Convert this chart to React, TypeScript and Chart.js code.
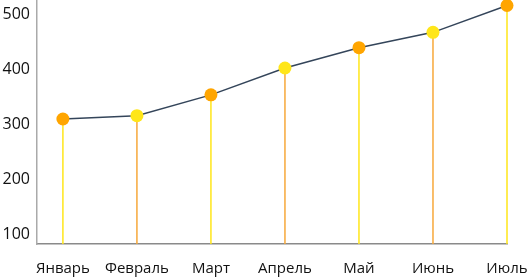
import React, { useEffect, useRef } from "react";
import { Chart, registerables } from "chart.js";

Chart.register(...registerables);

const categories = ["Январь", "Февраль", "Март", "Апрель", "Май", "Июнь", "Июль"];
const values = [310, 316, 354, 403, 440, 468, 517];
const pointColors = ["#FFA500", "#FFE619", "#FFA500", "#FFE619", "#FFA500", "#FFE619", "#FFA500"];
const dropColors = ["#FFE619", "#F7A83A", "#FFE619", "#F7A83A", "#FFE619", "#F7A83A", "#FFE619"];
const yTicks = [100, 200, 300, 400, 500];

const dropLines = {
  id: "dropLines",
  beforeDatasetsDraw(chart: any) {
    const ctx = chart.ctx;
    const meta = chart.getDatasetMeta(0);
    const bottom = chart.scales.y.bottom;
    ctx.save();
    meta.data.forEach((pt: any, i: number) => {
      ctx.beginPath();
      ctx.strokeStyle = dropColors[i];
      ctx.lineWidth = 1.5;
      ctx.moveTo(pt.x, pt.y);
      ctx.lineTo(pt.x, bottom);
      ctx.stroke();
    });
    ctx.restore();
  },
};

export default function App() {
  const ref = useRef<HTMLCanvasElement>(null);
  useEffect(() => {
    if (!ref.current) return;
    const chart = new Chart(ref.current, {
      type: "line",
      data: {
        datasets: [
          {
            data: values.map((v, i) => ({ x: i, y: v })),
            borderColor: "#34455A",
            borderWidth: 1.5,
            pointRadius: 6.5,
            pointHoverRadius: 6.5,
            pointBackgroundColor: pointColors,
            pointBorderWidth: 0,
            tension: 0,
            clip: false as any,
          },
        ],
      },
      options: {
        animation: false,
        responsive: false,
        maintainAspectRatio: false,
        layout: { autoPadding: false, padding: { top: 0, right: 22, left: 0, bottom: 0 } },
        plugins: { legend: { display: false }, tooltip: { enabled: false } },
        scales: {
          x: {
            type: "linear",
            min: -0.35,
            max: 6,
            grid: { display: false, drawTicks: false },
            border: { display: true, color: "#8a8a8a", width: 1.5 },
            afterBuildTicks: (s: any) => {
              s.ticks = categories.map((_, i) => ({ value: i }));
            },
            afterFit: (s: any) => {
              s.height = 36;
              s.paddingLeft = 0;
              s.paddingRight = 0;
            },
            ticks: {
              autoSkip: false,
              maxRotation: 0,
              padding: 16,
              color: "#111",
              font: { family: "Open Sans", size: 15 },
              callback: (v: any) => categories[v as number] ?? "",
            },
          },
          y: {
            min: 82,
            max: 527,
            grid: { display: false, drawTicks: false },
            border: { display: true, color: "#aaaaaa", width: 1.5 },
            afterBuildTicks: (s: any) => {
              s.ticks = yTicks.map((v) => ({ value: v }));
            },
            afterFit: (s: any) => {
              s.width = 37;
              s.paddingTop = 0;
              s.paddingBottom = 0;
            },
            ticks: {
              padding: 7,
              color: "#111",
              font: { family: "Open Sans", size: 16 },
            },
          },
        },
      },
      plugins: [dropLines],
    });
    return () => chart.destroy();
  }, []);
  return (
    <div style={{ position: "fixed", left: 0, top: 0, width: 529, height: 280, background: "#fff" }}>
      <canvas ref={ref} width={529} height={280} style={{ width: 529, height: 280 }} />
    </div>
  );
}
